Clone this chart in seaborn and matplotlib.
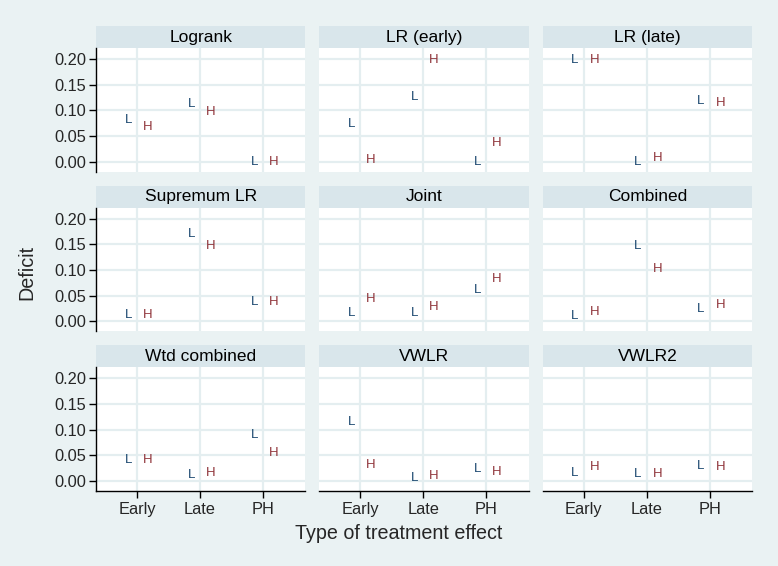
import numpy as np
import pandas as pd
import matplotlib
matplotlib.use("Agg")
import matplotlib.pyplot as plt
from matplotlib.patches import Rectangle
import seaborn as sns

# 数据
tests = ["Logrank", "LR (early)", "LR (late)",
         "Supremum LR", "Joint", "Combined",
         "Wtd combined", "VWLR", "VWLR2"]
effects = ["Early", "Late", "PH"]
# deficit for L and H, one row per test (Early, Late, PH)
deficit_L = [[0.082, 0.113, 0.000],
             [0.073, 0.127, 0.000],
             [0.199, 0.000, 0.119],
             [0.012, 0.170, 0.038],
             [0.017, 0.016, 0.062],
             [0.010, 0.146, 0.025],
             [0.040, 0.012, 0.090],
             [0.115, 0.005, 0.024],
             [0.016, 0.013, 0.030]]
deficit_H = [[0.067, 0.096, 0.000],
             [0.004, 0.199, 0.036],
             [0.199, 0.008, 0.114],
             [0.012, 0.146, 0.038],
             [0.044, 0.029, 0.082],
             [0.019, 0.102, 0.031],
             [0.041, 0.015, 0.054],
             [0.031, 0.010, 0.018],
             [0.027, 0.013, 0.027]]

rows = []
for i, t in enumerate(tests):
    for j, e in enumerate(effects):
        rows.append({"test": t, "effect": e, "pos": j + 1, "group": "L", "deficit": deficit_L[i][j]})
        rows.append({"test": t, "effect": e, "pos": j + 1, "group": "H", "deficit": deficit_H[i][j]})
df = pd.DataFrame(rows)

# 风格
sns.set_theme(style="white")
plt.rcParams['font.family'] = ['Liberation Sans', 'DejaVu Sans']
bg = "#eaf2f3"
strip = "#d9e6eb"
colors = {"L": "#1a476f", "H": "#90353b"}
offsets = {"L": -0.14, "H": 0.17}

g = sns.FacetGrid(df, col="test", col_wrap=3, col_order=tests,
                  sharex=True, sharey=True, height=2, aspect=1.2)
g.figure.set_size_inches(7.78, 5.66)
g.figure.set_facecolor(bg)


def draw_letters(data, **kws):
    ax = plt.gca()
    for _, r in data.iterrows():
        ax.text(r["pos"] + offsets[r["group"]], r["deficit"], r["group"],
                color=colors[r["group"]], fontsize=9.5, ha="center", va="center")


g.map_dataframe(draw_letters)
g.figure.subplots_adjust(left=0.1234, right=0.9666, top=0.9152, bottom=0.1325,
                         wspace=0.067, hspace=0.29)

for k, ax in enumerate(g.axes.flat):
    ax.set_facecolor("white")
    ax.set_xlim(0.35, 3.67)
    ax.set_ylim(-0.0194, 0.2214)
    ax.set_xticks([1, 2, 3])
    ax.set_yticks([0, 0.05, 0.10, 0.15, 0.20])
    ax.grid(True, color="#e4eef0", linewidth=1.6)
    ax.set_axisbelow(True)
    for s in ax.spines.values():
        s.set_visible(False)
    ax.set_title("")
    ax.set_xlabel("")
    ax.set_ylabel("")
    col = k % 3
    row = k // 3
    if col == 0:
        ax.spines["left"].set_visible(True)
        ax.spines["left"].set_color("black")
        ax.spines["left"].set_linewidth(1.0)
        ax.set_yticklabels(["0.00", "0.05", "0.10", "0.15", "0.20"])
        ax.tick_params(axis="y", left=True, length=5, width=1, color="black",
                       labelsize=11.8, pad=2, labelleft=True)
    else:
        ax.tick_params(axis="y", left=False, labelleft=False)
    if row == 2:
        ax.spines["bottom"].set_visible(True)
        ax.spines["bottom"].set_color("black")
        ax.spines["bottom"].set_linewidth(1.0)
        ax.set_xticklabels(effects)
        ax.tick_params(axis="x", bottom=True, length=5, width=1, color="black",
                       labelsize=11.8, pad=3, labelbottom=True)
    else:
        ax.tick_params(axis="x", bottom=False, labelbottom=False)
    # strip title
    h = 22 / 124
    ax.add_patch(Rectangle((0, 1), 1, h, transform=ax.transAxes,
                           facecolor=strip, edgecolor="none", clip_on=False))
    ax.text(0.5, 1 + h / 2, tests[k], transform=ax.transAxes,
            ha="center", va="center", fontsize=12.5, color="black")

g.figure.text(0.513, 0.058, "Type of treatment effect", ha="center", va="center", fontsize=14.2)
g.figure.text(0.035, 0.518, "Deficit", ha="center", va="center", rotation=90, fontsize=14.2)

plt.savefig("out.png", dpi=100, facecolor=bg)
